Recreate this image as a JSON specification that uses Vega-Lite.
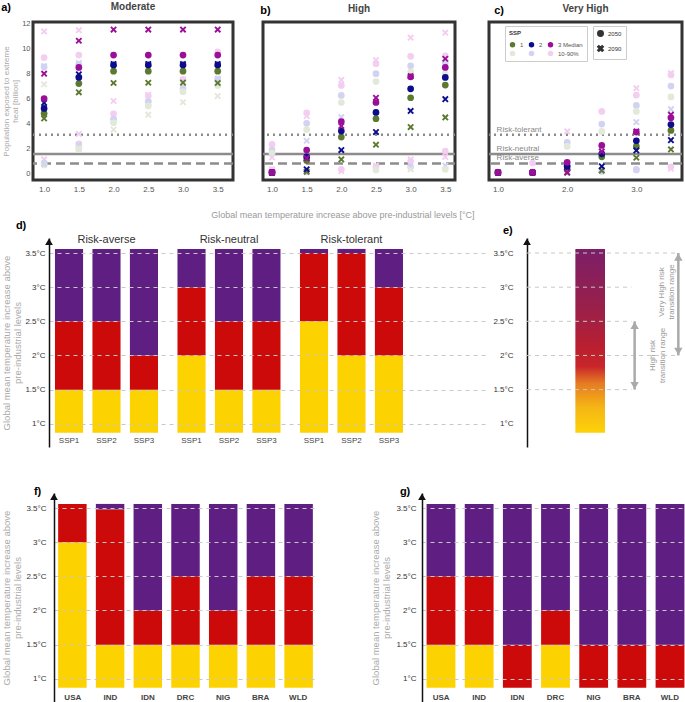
{
"$schema": "https://vega.github.io/schema/vega-lite/v6.json",
"padding": 0,
"background": "white",
"config": {"font": "Liberation Sans", "view": {"stroke": null}, "axis": {"labelFont": "Liberation Sans", "titleFont": "Liberation Sans"}, "title": {"font": "Liberation Sans"}, "legend": {"labelFont": "Liberation Sans", "titleFont": "Liberation Sans"}},
"datasets": {
"thr": [{"k": "tol", "v": 3.08, "lab": "Risk-tolerant"}, {"k": "neu", "v": 1.54, "lab": "Risk-neutral"}, {"k": "ave", "v": 0.77, "lab": "Risk-averse"}],
"pts": [
{"p":"a","t":1,"c":"3L","yr":"2090","v":11.4},{"p":"a","t":1,"c":"3L","yr":"2050","v":9.3},{"p":"a","t":1,"c":"2L","yr":"2090","v":8.6},{"p":"a","t":1,"c":"2L","yr":"2050","v":8.55},{"p":"a","t":1,"c":"1L","yr":"2090","v":7.15},{"p":"a","t":1,"c":"3L","yr":"2090","v":1.1},{"p":"a","t":1,"c":"2L","yr":"2050","v":0.8},{"p":"a","t":1,"c":"1L","yr":"2050","v":0.65},{"p":"a","t":1,"c":"2L","yr":"2090","v":0.72},
{"p":"a","t":1.5,"c":"3L","yr":"2090","v":11.5},{"p":"a","t":1.5,"c":"3L","yr":"2050","v":9.5},{"p":"a","t":1.5,"c":"2L","yr":"2090","v":8.85},{"p":"a","t":1.5,"c":"2L","yr":"2050","v":8.75},{"p":"a","t":1.5,"c":"3L","yr":"2090","v":3.15},{"p":"a","t":1.5,"c":"3L","yr":"2050","v":2.35},{"p":"a","t":1.5,"c":"2L","yr":"2090","v":2.25},{"p":"a","t":1.5,"c":"2L","yr":"2050","v":2.12},{"p":"a","t":1.5,"c":"1L","yr":"2090","v":2.0},{"p":"a","t":1.5,"c":"1L","yr":"2050","v":1.9},
{"p":"a","t":2,"c":"3L","yr":"2090","v":5.8},{"p":"a","t":2,"c":"3L","yr":"2050","v":4.77},{"p":"a","t":2,"c":"2L","yr":"2050","v":4.34},{"p":"a","t":2,"c":"2L","yr":"2090","v":4.25},{"p":"a","t":2,"c":"1L","yr":"2050","v":4.05},{"p":"a","t":2,"c":"1L","yr":"2090","v":3.5},
{"p":"a","t":2.5,"c":"3L","yr":"2090","v":6.3},{"p":"a","t":2.5,"c":"3L","yr":"2050","v":6.22},{"p":"a","t":2.5,"c":"2L","yr":"2050","v":5.75},{"p":"a","t":2.5,"c":"2L","yr":"2090","v":5.7},{"p":"a","t":2.5,"c":"1L","yr":"2050","v":5.4},{"p":"a","t":2.5,"c":"1L","yr":"2090","v":4.7},
{"p":"a","t":3,"c":"3L","yr":"2090","v":7.5},{"p":"a","t":3,"c":"3L","yr":"2050","v":7.55},{"p":"a","t":3,"c":"2L","yr":"2090","v":6.9},{"p":"a","t":3,"c":"2L","yr":"2050","v":6.8},{"p":"a","t":3,"c":"1L","yr":"2050","v":6.55},{"p":"a","t":3,"c":"1L","yr":"2090","v":5.7},
{"p":"a","t":3.5,"c":"3L","yr":"2050","v":9.75},{"p":"a","t":3.5,"c":"3L","yr":"2090","v":7.62},{"p":"a","t":3.5,"c":"2L","yr":"2050","v":7.55},{"p":"a","t":3.5,"c":"2L","yr":"2090","v":7.5},{"p":"a","t":3.5,"c":"1L","yr":"2050","v":7.05},{"p":"a","t":3.5,"c":"1L","yr":"2090","v":6.2},
{"p":"b","t":1,"c":"3L","yr":"2050","v":2.3},{"p":"b","t":1,"c":"2L","yr":"2050","v":1.85},{"p":"b","t":1,"c":"1L","yr":"2050","v":1.6},{"p":"b","t":1,"c":"3L","yr":"2090","v":1.26},{"p":"b","t":1,"c":"2L","yr":"2090","v":0.3},{"p":"b","t":1,"c":"1L","yr":"2090","v":0.2},{"p":"b","t":1,"c":"3L","yr":"2050","v":0.25},
{"p":"b","t":1.5,"c":"3L","yr":"2050","v":4.85},{"p":"b","t":1.5,"c":"3L","yr":"2090","v":4.6},{"p":"b","t":1.5,"c":"2L","yr":"2050","v":4.0},{"p":"b","t":1.5,"c":"1L","yr":"2050","v":3.5},{"p":"b","t":1.5,"c":"2L","yr":"2090","v":2.6},{"p":"b","t":1.5,"c":"1L","yr":"2090","v":0.15},{"p":"b","t":1.5,"c":"3L","yr":"2050","v":0.1},
{"p":"b","t":2,"c":"3L","yr":"2090","v":7.5},{"p":"b","t":2,"c":"3L","yr":"2050","v":7.05},{"p":"b","t":2,"c":"2L","yr":"2050","v":6.25},{"p":"b","t":2,"c":"1L","yr":"2050","v":5.68},{"p":"b","t":2,"c":"2L","yr":"2090","v":4.5},{"p":"b","t":2,"c":"3L","yr":"2050","v":0.3},{"p":"b","t":2,"c":"3L","yr":"2090","v":0.15},
{"p":"b","t":2.5,"c":"3L","yr":"2090","v":9.1},{"p":"b","t":2.5,"c":"3L","yr":"2050","v":8.8},{"p":"b","t":2.5,"c":"2L","yr":"2050","v":8.0},{"p":"b","t":2.5,"c":"1L","yr":"2050","v":7.37},{"p":"b","t":2.5,"c":"3L","yr":"2090","v":0.6},{"p":"b","t":2.5,"c":"3L","yr":"2050","v":0.5},{"p":"b","t":2.5,"c":"1L","yr":"2050","v":0.25},
{"p":"b","t":3,"c":"3L","yr":"2090","v":10.9},{"p":"b","t":3,"c":"3L","yr":"2050","v":9.4},{"p":"b","t":3,"c":"2L","yr":"2050","v":8.63},{"p":"b","t":3,"c":"1L","yr":"2050","v":8.15},{"p":"b","t":3,"c":"3L","yr":"2090","v":1.1},{"p":"b","t":3,"c":"3L","yr":"2050","v":0.95},{"p":"b","t":3,"c":"2L","yr":"2050","v":0.5},{"p":"b","t":3,"c":"1L","yr":"2090","v":0.3},
{"p":"b","t":3.5,"c":"3L","yr":"2090","v":11.3},{"p":"b","t":3.5,"c":"3L","yr":"2050","v":9.44},{"p":"b","t":3.5,"c":"2L","yr":"2050","v":8.9},{"p":"b","t":3.5,"c":"1L","yr":"2050","v":8.0},{"p":"b","t":3.5,"c":"3L","yr":"2050","v":1.77},{"p":"b","t":3.5,"c":"3L","yr":"2090","v":1.3},{"p":"b","t":3.5,"c":"2L","yr":"2090","v":0.6},{"p":"b","t":3.5,"c":"1L","yr":"2050","v":0.3},
{"p":"c","t":1,"c":"3L","yr":"2050","v":0.1},{"p":"c","t":1,"c":"2L","yr":"2050","v":0.08},
{"p":"c","t":1.5,"c":"3L","yr":"2050","v":0.8},{"p":"c","t":1.5,"c":"2L","yr":"2050","v":0.1},
{"p":"c","t":2,"c":"3L","yr":"2090","v":3.35},{"p":"c","t":2,"c":"2L","yr":"2050","v":2.47},{"p":"c","t":2,"c":"1L","yr":"2050","v":2.14},{"p":"c","t":2,"c":"2L","yr":"2090","v":0.6},{"p":"c","t":2,"c":"3L","yr":"2050","v":0.1},
{"p":"c","t":2.5,"c":"3L","yr":"2050","v":4.96},{"p":"c","t":2.5,"c":"2L","yr":"2050","v":3.94},{"p":"c","t":2.5,"c":"1L","yr":"2050","v":3.35},{"p":"c","t":2.5,"c":"3L","yr":"2090","v":0.2},{"p":"c","t":2.5,"c":"2L","yr":"2050","v":0.13},
{"p":"c","t":3,"c":"3L","yr":"2090","v":6.83},{"p":"c","t":3,"c":"3L","yr":"2050","v":6.27},{"p":"c","t":3,"c":"2L","yr":"2050","v":5.44},{"p":"c","t":3,"c":"1L","yr":"2050","v":4.96},{"p":"c","t":3,"c":"2L","yr":"2090","v":4.1},{"p":"c","t":3,"c":"3L","yr":"2050","v":0.3},{"p":"c","t":3,"c":"2L","yr":"2050","v":0.25},
{"p":"c","t":3.5,"c":"3L","yr":"2090","v":8.04},{"p":"c","t":3.5,"c":"3L","yr":"2050","v":7.9},{"p":"c","t":3.5,"c":"2L","yr":"2050","v":7.0},{"p":"c","t":3.5,"c":"1L","yr":"2050","v":6.13},{"p":"c","t":3.5,"c":"2L","yr":"2090","v":5.14},{"p":"c","t":3.5,"c":"3L","yr":"2050","v":0.5},{"p":"c","t":3.5,"c":"3L","yr":"2090","v":0.35},
{"p":"a","t":1,"c":"1M","yr":"2050","v":4.8},{"p":"a","t":1,"c":"1M","yr":"2090","v":4.4},{"p":"a","t":1,"c":"2M","yr":"2050","v":5.2},{"p":"a","t":1,"c":"2M","yr":"2090","v":5.65},{"p":"a","t":1,"c":"3M","yr":"2050","v":6.0},{"p":"a","t":1,"c":"3M","yr":"2090","v":8.0},
{"p":"a","t":1.5,"c":"1M","yr":"2050","v":7.2},{"p":"a","t":1.5,"c":"1M","yr":"2090","v":6.5},{"p":"a","t":1.5,"c":"2M","yr":"2050","v":7.7},{"p":"a","t":1.5,"c":"2M","yr":"2090","v":7.95},{"p":"a","t":1.5,"c":"3M","yr":"2050","v":8.5},{"p":"a","t":1.5,"c":"3M","yr":"2090","v":10.65},
{"p":"a","t":2,"c":"1M","yr":"2050","v":8.2},{"p":"a","t":2,"c":"1M","yr":"2090","v":7.25},{"p":"a","t":2,"c":"2M","yr":"2050","v":8.7},{"p":"a","t":2,"c":"2M","yr":"2090","v":8.78},{"p":"a","t":2,"c":"3M","yr":"2050","v":9.5},{"p":"a","t":2,"c":"3M","yr":"2090","v":11.55},
{"p":"a","t":2.5,"c":"1M","yr":"2050","v":8.2},{"p":"a","t":2.5,"c":"1M","yr":"2090","v":7.27},{"p":"a","t":2.5,"c":"2M","yr":"2050","v":8.7},{"p":"a","t":2.5,"c":"2M","yr":"2090","v":8.78},{"p":"a","t":2.5,"c":"3M","yr":"2050","v":9.5},{"p":"a","t":2.5,"c":"3M","yr":"2090","v":11.55},
{"p":"a","t":3,"c":"1M","yr":"2050","v":8.2},{"p":"a","t":3,"c":"1M","yr":"2090","v":7.28},{"p":"a","t":3,"c":"2M","yr":"2050","v":8.7},{"p":"a","t":3,"c":"2M","yr":"2090","v":8.78},{"p":"a","t":3,"c":"3M","yr":"2050","v":9.5},{"p":"a","t":3,"c":"3M","yr":"2090","v":11.55},
{"p":"a","t":3.5,"c":"1M","yr":"2050","v":8.2},{"p":"a","t":3.5,"c":"1M","yr":"2090","v":7.25},{"p":"a","t":3.5,"c":"2M","yr":"2050","v":8.7},{"p":"a","t":3.5,"c":"2M","yr":"2090","v":8.78},{"p":"a","t":3.5,"c":"3M","yr":"2050","v":9.5},{"p":"a","t":3.5,"c":"3M","yr":"2090","v":11.55},
{"p":"b","t":1,"c":"1M","yr":"2050","v":0.05},{"p":"b","t":1,"c":"1M","yr":"2090","v":0.03},{"p":"b","t":1,"c":"2M","yr":"2050","v":0.05},{"p":"b","t":1,"c":"2M","yr":"2090","v":0.03},{"p":"b","t":1,"c":"3M","yr":"2050","v":0.06},{"p":"b","t":1,"c":"3M","yr":"2090","v":0.03},
{"p":"b","t":1.5,"c":"1M","yr":"2050","v":1.0},{"p":"b","t":1.5,"c":"1M","yr":"2090","v":0.1},{"p":"b","t":1.5,"c":"2M","yr":"2050","v":1.3},{"p":"b","t":1.5,"c":"2M","yr":"2090","v":0.3},{"p":"b","t":1.5,"c":"3M","yr":"2050","v":1.85},{"p":"b","t":1.5,"c":"3M","yr":"2090","v":1.2},
{"p":"b","t":2,"c":"1M","yr":"2050","v":2.9},{"p":"b","t":2,"c":"1M","yr":"2090","v":1.1},{"p":"b","t":2,"c":"2M","yr":"2050","v":3.38},{"p":"b","t":2,"c":"2M","yr":"2090","v":1.85},{"p":"b","t":2,"c":"3M","yr":"2050","v":4.15},{"p":"b","t":2,"c":"3M","yr":"2090","v":3.78},
{"p":"b","t":2.5,"c":"1M","yr":"2050","v":4.37},{"p":"b","t":2.5,"c":"1M","yr":"2090","v":2.28},{"p":"b","t":2.5,"c":"2M","yr":"2050","v":4.88},{"p":"b","t":2.5,"c":"2M","yr":"2090","v":3.3},{"p":"b","t":2.5,"c":"3M","yr":"2050","v":5.68},{"p":"b","t":2.5,"c":"3M","yr":"2090","v":6.06},
{"p":"b","t":3,"c":"1M","yr":"2050","v":6.06},{"p":"b","t":3,"c":"1M","yr":"2090","v":3.7},{"p":"b","t":3,"c":"2M","yr":"2050","v":6.78},{"p":"b","t":3,"c":"2M","yr":"2090","v":5.0},{"p":"b","t":3,"c":"3M","yr":"2050","v":7.75},{"p":"b","t":3,"c":"3M","yr":"2090","v":7.8},
{"p":"b","t":3.5,"c":"1M","yr":"2050","v":7.08},{"p":"b","t":3.5,"c":"1M","yr":"2090","v":4.48},{"p":"b","t":3.5,"c":"2M","yr":"2050","v":7.7},{"p":"b","t":3.5,"c":"2M","yr":"2090","v":5.95},{"p":"b","t":3.5,"c":"3M","yr":"2050","v":8.5},{"p":"b","t":3.5,"c":"3M","yr":"2090","v":9.2},
{"p":"c","t":1,"c":"1M","yr":"2050","v":0.04},{"p":"c","t":1,"c":"1M","yr":"2090","v":0.03},{"p":"c","t":1,"c":"2M","yr":"2050","v":0.04},{"p":"c","t":1,"c":"2M","yr":"2090","v":0.03},{"p":"c","t":1,"c":"3M","yr":"2050","v":0.05},{"p":"c","t":1,"c":"3M","yr":"2090","v":0.04},
{"p":"c","t":1.5,"c":"1M","yr":"2050","v":0.04},{"p":"c","t":1.5,"c":"1M","yr":"2090","v":0.03},{"p":"c","t":1.5,"c":"2M","yr":"2050","v":0.04},{"p":"c","t":1.5,"c":"2M","yr":"2090","v":0.03},{"p":"c","t":1.5,"c":"3M","yr":"2050","v":0.05},{"p":"c","t":1.5,"c":"3M","yr":"2090","v":0.04},
{"p":"c","t":2,"c":"1M","yr":"2050","v":0.3},{"p":"c","t":2,"c":"1M","yr":"2090","v":0.03},{"p":"c","t":2,"c":"2M","yr":"2050","v":0.55},{"p":"c","t":2,"c":"2M","yr":"2090","v":0.46},{"p":"c","t":2,"c":"3M","yr":"2050","v":0.86},{"p":"c","t":2,"c":"3M","yr":"2090","v":0.05},
{"p":"c","t":2.5,"c":"1M","yr":"2050","v":1.31},{"p":"c","t":2.5,"c":"1M","yr":"2090","v":0.2},{"p":"c","t":2.5,"c":"2M","yr":"2050","v":1.55},{"p":"c","t":2.5,"c":"2M","yr":"2090","v":0.54},{"p":"c","t":2.5,"c":"3M","yr":"2050","v":2.22},{"p":"c","t":2.5,"c":"3M","yr":"2090","v":1.74},
{"p":"c","t":3,"c":"1M","yr":"2050","v":2.14},{"p":"c","t":3,"c":"1M","yr":"2090","v":1.23},{"p":"c","t":3,"c":"2M","yr":"2050","v":2.6},{"p":"c","t":3,"c":"2M","yr":"2090","v":1.82},{"p":"c","t":3,"c":"3M","yr":"2050","v":3.3},{"p":"c","t":3,"c":"3M","yr":"2090","v":3.35},
{"p":"c","t":3.5,"c":"1M","yr":"2050","v":3.43},{"p":"c","t":3.5,"c":"1M","yr":"2090","v":1.9},{"p":"c","t":3.5,"c":"2M","yr":"2050","v":3.9},{"p":"c","t":3.5,"c":"2M","yr":"2090","v":2.65},{"p":"c","t":3.5,"c":"3M","yr":"2050","v":4.45},{"p":"c","t":3.5,"c":"3M","yr":"2090","v":4.7}
],
"dbar": [
{"g":"Risk-averse","s":"SSP1","lvl":"Moderate","y0":0.87,"y1":1.5},{"g":"Risk-averse","s":"SSP1","lvl":"High","y0":1.5,"y1":2.5},{"g":"Risk-averse","s":"SSP1","lvl":"Very High","y0":2.5,"y1":3.56},
{"g":"Risk-averse","s":"SSP2","lvl":"Moderate","y0":0.87,"y1":1.5},{"g":"Risk-averse","s":"SSP2","lvl":"High","y0":1.5,"y1":2.5},{"g":"Risk-averse","s":"SSP2","lvl":"Very High","y0":2.5,"y1":3.56},
{"g":"Risk-averse","s":"SSP3","lvl":"Moderate","y0":0.87,"y1":1.5},{"g":"Risk-averse","s":"SSP3","lvl":"High","y0":1.5,"y1":2.0},{"g":"Risk-averse","s":"SSP3","lvl":"Very High","y0":2.0,"y1":3.56},
{"g":"Risk-neutral","s":"SSP1","lvl":"Moderate","y0":0.87,"y1":2.0},{"g":"Risk-neutral","s":"SSP1","lvl":"High","y0":2.0,"y1":3.0},{"g":"Risk-neutral","s":"SSP1","lvl":"Very High","y0":3.0,"y1":3.56},
{"g":"Risk-neutral","s":"SSP2","lvl":"Moderate","y0":0.87,"y1":1.5},{"g":"Risk-neutral","s":"SSP2","lvl":"High","y0":1.5,"y1":2.5},{"g":"Risk-neutral","s":"SSP2","lvl":"Very High","y0":2.5,"y1":3.56},
{"g":"Risk-neutral","s":"SSP3","lvl":"Moderate","y0":0.87,"y1":1.5},{"g":"Risk-neutral","s":"SSP3","lvl":"High","y0":1.5,"y1":2.5},{"g":"Risk-neutral","s":"SSP3","lvl":"Very High","y0":2.5,"y1":3.56},
{"g":"Risk-tolerant","s":"SSP1","lvl":"Moderate","y0":0.87,"y1":2.5},{"g":"Risk-tolerant","s":"SSP1","lvl":"High","y0":2.5,"y1":3.5},{"g":"Risk-tolerant","s":"SSP1","lvl":"Very High","y0":3.5,"y1":3.56},
{"g":"Risk-tolerant","s":"SSP2","lvl":"Moderate","y0":0.87,"y1":2.0},{"g":"Risk-tolerant","s":"SSP2","lvl":"High","y0":2.0,"y1":3.5},{"g":"Risk-tolerant","s":"SSP2","lvl":"Very High","y0":3.5,"y1":3.56},
{"g":"Risk-tolerant","s":"SSP3","lvl":"Moderate","y0":0.87,"y1":2.0},{"g":"Risk-tolerant","s":"SSP3","lvl":"High","y0":2.0,"y1":3.0},{"g":"Risk-tolerant","s":"SSP3","lvl":"Very High","y0":3.0,"y1":3.56}
],
"fbar": [
{"cty":"USA","lvl":"Moderate","y0":0.87,"y1":3.0},{"cty":"USA","lvl":"High","y0":3.0,"y1":3.56},
{"cty":"IND","lvl":"Moderate","y0":0.87,"y1":1.5},{"cty":"IND","lvl":"High","y0":1.5,"y1":3.48},{"cty":"IND","lvl":"Very High","y0":3.48,"y1":3.56},
{"cty":"IDN","lvl":"Moderate","y0":0.87,"y1":1.5},{"cty":"IDN","lvl":"High","y0":1.5,"y1":2.0},{"cty":"IDN","lvl":"Very High","y0":2.0,"y1":3.56},
{"cty":"DRC","lvl":"Moderate","y0":0.87,"y1":1.5},{"cty":"DRC","lvl":"High","y0":1.5,"y1":2.5},{"cty":"DRC","lvl":"Very High","y0":2.5,"y1":3.56},
{"cty":"NIG","lvl":"Moderate","y0":0.87,"y1":1.5},{"cty":"NIG","lvl":"High","y0":1.5,"y1":2.0},{"cty":"NIG","lvl":"Very High","y0":2.0,"y1":3.56},
{"cty":"BRA","lvl":"Moderate","y0":0.87,"y1":1.5},{"cty":"BRA","lvl":"High","y0":1.5,"y1":2.5},{"cty":"BRA","lvl":"Very High","y0":2.5,"y1":3.56},
{"cty":"WLD","lvl":"Moderate","y0":0.87,"y1":1.5},{"cty":"WLD","lvl":"High","y0":1.5,"y1":2.5},{"cty":"WLD","lvl":"Very High","y0":2.5,"y1":3.56}
],
"gbar": [
{"cty":"USA","lvl":"Moderate","y0":0.87,"y1":1.5},{"cty":"USA","lvl":"High","y0":1.5,"y1":2.5},{"cty":"USA","lvl":"Very High","y0":2.5,"y1":3.56},
{"cty":"IND","lvl":"Moderate","y0":0.87,"y1":1.5},{"cty":"IND","lvl":"High","y0":1.5,"y1":2.5},{"cty":"IND","lvl":"Very High","y0":2.5,"y1":3.56},
{"cty":"IDN","lvl":"High","y0":0.87,"y1":1.5},{"cty":"IDN","lvl":"Very High","y0":1.5,"y1":3.56},
{"cty":"DRC","lvl":"Moderate","y0":0.87,"y1":1.5},{"cty":"DRC","lvl":"High","y0":1.5,"y1":2.0},{"cty":"DRC","lvl":"Very High","y0":2.0,"y1":3.56},
{"cty":"NIG","lvl":"High","y0":0.87,"y1":1.5},{"cty":"NIG","lvl":"Very High","y0":1.5,"y1":3.56},
{"cty":"BRA","lvl":"High","y0":0.87,"y1":1.5},{"cty":"BRA","lvl":"Very High","y0":1.5,"y1":3.56},
{"cty":"WLD","lvl":"High","y0":0.87,"y1":1.5},{"cty":"WLD","lvl":"Very High","y0":1.5,"y1":3.56}
]
},
"resolve": {"scale": {"color": "independent", "shape": "independent", "fill": "independent", "strokeDash": "independent"}, "legend": {"color": "independent", "shape": "independent", "fill": "independent", "strokeDash": "independent"}},
"columns": 1,
"align": "none",
"spacing": 39,
"concat": [
{
"columns": 1,
"align": "none",
"spacing": 0,
"resolve": {"scale": {"color": "independent", "shape": "independent", "fill": "independent", "strokeDash": "independent"}, "legend": {"color": "independent", "shape": "independent", "fill": "independent", "strokeDash": "independent"}},
"concat": [
{
"spacing": 0,
"resolve": {"scale": {"color": "independent", "shape": "independent", "strokeDash": "independent"}, "legend": {"color": "independent", "shape": "independent", "strokeDash": "independent"}},
"hconcat": [
{"width": 1, "height": 1, "data": {"values": []}, "mark": {"type": "point", "opacity": 0}},
{
"spacing": 24,
"title": {"text": "Global mean temperature increase above pre-industrial levels [°C]", "orient": "bottom", "anchor": "middle", "frame": "bounds", "fontSize": 9, "fontWeight": "normal", "color": "#999", "offset": 16},
"resolve": {"scale": {"color": "independent", "shape": "independent", "strokeDash": "independent"}, "legend": {"color": "independent", "shape": "independent", "strokeDash": "independent"}},
"hconcat": [
{
"title": {"text": "a)", "anchor": "start", "frame": "bounds", "fontSize": 11, "fontWeight": "bold", "color": "#000", "offset": 0, "dy": 13},
"resolve": {"scale": {"color": "independent", "shape": "independent", "strokeDash": "independent"}, "legend": {"color": "independent", "shape": "independent", "strokeDash": "independent"}},
"vconcat": [{
"width": 200, "height": 158,
"title": {"text": "Moderate", "anchor": "middle", "frame": "group", "fontSize": 10, "fontWeight": "bold", "color": "#444", "offset": 8},
"view": {"stroke": "#333", "strokeWidth": 3},
"encoding": {"y": {"field": "v", "type": "quantitative", "scale": {"domain": [-0.56, 12.16], "nice": false, "zero": false}, "axis": {"values": [0, 2, 4, 6, 8, 10, 12], "ticks": false, "domain": false, "grid": false, "labelFontSize": 7.5, "labelColor": "#555", "labelPadding": 3, "title": ["Population exposed to extreme", "heat [billion]"], "titleColor": "#aaa", "titleFontSize": 8, "titleFontWeight": "normal", "titlePadding": 2, "titleLineHeight": 9}}},
"layer": [
{"data": {"name": "thr"}, "mark": {"type": "rule", "color": "#8c8c8c", "strokeWidth": 2.5}, "encoding": {"strokeDash": {"field": "k", "type": "nominal", "scale": {"domain": ["tol", "neu", "ave"], "range": [[2, 4], [1, 0], [9, 5]]}, "legend": null}}},
{"data": {"name": "pts"}, "transform": [{"filter": "datum.p == 'a'"}], "mark": {"type": "point", "filled": true, "opacity": 1, "size": 45},
"encoding": {"x": {"field": "t", "type": "quantitative", "scale": {"domain": [0.84, 3.72], "nice": false, "zero": false}, "axis": {"values": [1, 1.5, 2, 2.5, 3, 3.5], "format": ".1f", "ticks": false, "domain": false, "grid": false, "labelFontSize": 8, "labelColor": "#555", "labelPadding": 5, "title": null}},
"color": {"field": "c", "type": "nominal", "scale": {"domain": ["1M", "2M", "3M", "1L", "2L", "3L"], "range": ["#5b7a2f", "#0c0c8c", "#9b0e98", "#e2e9d8", "#d2d2f2", "#f3cef1"]}, "legend": null},
"shape": {"field": "yr", "type": "nominal", "scale": {"domain": ["2050", "2090"], "range": ["circle", "M-1,-0.6L-0.6,-1L0,-0.4L0.6,-1L1,-0.6L0.4,0L1,0.6L0.6,1L0,0.4L-0.6,1L-1,0.6L-0.4,0Z"]}, "legend": null}}}
]
}]
},
{
"spacing": 28,
"resolve": {"scale": {"color": "independent", "shape": "independent", "strokeDash": "independent"}, "legend": {"color": "independent", "shape": "independent", "strokeDash": "independent"}},
"hconcat": [
{
"title": {"text": "b)", "anchor": "start", "frame": "bounds", "fontSize": 11, "fontWeight": "bold", "color": "#000", "offset": 0, "dy": 13},
"resolve": {"scale": {"color": "independent", "shape": "independent", "strokeDash": "independent"}, "legend": {"color": "independent", "shape": "independent", "strokeDash": "independent"}},
"vconcat": [{
"width": 192, "height": 158,
"title": {"text": "High", "anchor": "middle", "frame": "group", "fontSize": 10, "fontWeight": "bold", "color": "#444", "offset": 8},
"view": {"stroke": "#333", "strokeWidth": 3},
"encoding": {"y": {"field": "v", "type": "quantitative", "scale": {"domain": [-0.56, 12.16], "nice": false, "zero": false}, "axis": null}},
"layer": [
{"data": {"name": "thr"}, "mark": {"type": "rule", "color": "#8c8c8c", "strokeWidth": 2.5}, "encoding": {"strokeDash": {"field": "k", "type": "nominal", "scale": {"domain": ["tol", "neu", "ave"], "range": [[2, 4], [1, 0], [9, 5]]}, "legend": null}}},
{"data": {"name": "pts"}, "transform": [{"filter": "datum.p == 'b'"}], "mark": {"type": "point", "filled": true, "opacity": 1, "size": 45},
"encoding": {"x": {"field": "t", "type": "quantitative", "scale": {"domain": [0.87, 3.64], "nice": false, "zero": false}, "axis": {"values": [1, 1.5, 2, 2.5, 3, 3.5], "format": ".1f", "ticks": false, "domain": false, "grid": false, "labelFontSize": 8, "labelColor": "#555", "labelPadding": 5, "title": null}},
"color": {"field": "c", "type": "nominal", "scale": {"domain": ["1M", "2M", "3M", "1L", "2L", "3L"], "range": ["#5b7a2f", "#0c0c8c", "#9b0e98", "#e2e9d8", "#d2d2f2", "#f3cef1"]}, "legend": null},
"shape": {"field": "yr", "type": "nominal", "scale": {"domain": ["2050", "2090"], "range": ["circle", "M-1,-0.6L-0.6,-1L0,-0.4L0.6,-1L1,-0.6L0.4,0L1,0.6L0.6,1L0,0.4L-0.6,1L-1,0.6L-0.4,0Z"]}, "legend": null}}}
]
}]
},
{
"title": {"text": "c)", "anchor": "start", "frame": "bounds", "dx": 8, "fontSize": 11, "fontWeight": "bold", "color": "#000", "offset": 0, "dy": 13},
"resolve": {"scale": {"color": "independent", "shape": "independent", "strokeDash": "independent"}, "legend": {"color": "independent", "shape": "independent", "strokeDash": "independent"}},
"vconcat": [{
"width": 193, "height": 158,
"title": {"text": "Very High", "anchor": "middle", "frame": "group", "fontSize": 10, "fontWeight": "bold", "color": "#444", "offset": 8},
"view": {"stroke": "#333", "strokeWidth": 3},
"encoding": {"y": {"field": "v", "type": "quantitative", "scale": {"domain": [-0.56, 12.16], "nice": false, "zero": false}, "axis": null}},
"layer": [
{"data": {"name": "thr"}, "mark": {"type": "rule", "color": "#8c8c8c", "strokeWidth": 2.5}, "encoding": {"strokeDash": {"field": "k", "type": "nominal", "scale": {"domain": ["tol", "neu", "ave"], "range": [[2, 4], [1, 0], [9, 5]]}, "legend": null}}},
{"data": {"name": "pts"}, "transform": [{"filter": "datum.p == 'c'"}], "mark": {"type": "point", "filled": true, "opacity": 1, "size": 45},
"encoding": {"x": {"field": "t", "type": "quantitative", "scale": {"domain": [0.87, 3.66], "nice": false, "zero": false}, "axis": {"values": [1, 1.5, 2, 2.5, 3, 3.5], "format": ".1f", "ticks": false, "domain": false, "grid": false, "labelFontSize": 8, "labelColor": "#555", "labelPadding": 5, "title": null}},
"color": {"field": "c", "type": "nominal", "scale": {"domain": ["1M", "2M", "3M", "1L", "2L", "3L"], "range": ["#5b7a2f", "#0c0c8c", "#9b0e98", "#e2e9d8", "#d2d2f2", "#f3cef1"]}, "legend": {"orient": "none", "legendX": 16, "legendY": 4, "columns": 3, "direction": "horizontal", "title": "SSP", "titleFontSize": 6, "titleColor": "#333", "labelFontSize": 6, "labelColor": "#555", "symbolType": "circle", "symbolSize": 30, "strokeColor": "#ccc", "fillColor": "white", "padding": 4, "rowPadding": 2, "columnPadding": 4, "labelExpr": "datum.value == '1M' ? '1' : datum.value == '2M' ? '2' : datum.value == '3M' ? '3 Median' : datum.value == '3L' ? '10-90%' : ''"}},
"shape": {"field": "yr", "type": "nominal", "scale": {"domain": ["2050", "2090"], "range": ["circle", "M-1,-0.6L-0.6,-1L0,-0.4L0.6,-1L1,-0.6L0.4,0L1,0.6L0.6,1L0,0.4L-0.6,1L-1,0.6L-0.4,0Z"]}, "legend": {"orient": "none", "legendX": 104, "legendY": 4, "title": null, "labelFontSize": 6, "labelColor": "#333", "symbolFillColor": "#333", "symbolStrokeColor": "#333", "symbolSize": 30, "strokeColor": "#ccc", "fillColor": "white", "padding": 4}}}},
{"data": {"name": "thr"}, "mark": {"type": "text", "align": "left", "baseline": "bottom", "dy": -1, "fontSize": 8, "color": "#888"}, "encoding": {"x": {"datum": 0.98, "type": "quantitative"}, "text": {"field": "lab"}}}
]
}]
}
]
}
]
}
]
},
{
"spacing": 0,
"resolve": {"scale": {"fill": "independent"}, "legend": {"fill": "independent"}},
"hconcat": [
{"width": 1, "height": 1, "data": {"values": []}, "mark": {"type": "point", "opacity": 0}},
{
"spacing": 3,
"resolve": {"scale": {"fill": "independent"}, "legend": {"fill": "independent"}},
"hconcat": [
{
"width": 440, "height": 209,
"title": {"text": "d)", "anchor": "start", "frame": "bounds", "dx": 14, "fontSize": 11, "fontWeight": "bold", "color": "#000", "offset": 2},
"resolve": {"scale": {"x": "independent"}},
"layer": [
{"data": {"name": "dbar"}, "mark": {"type": "bar"},
"encoding": {
"x": {"field": "g", "type": "nominal", "sort": null, "scale": {"domain": ["Risk-averse", "Risk-neutral", "Risk-tolerant"], "paddingInner": 0.159, "paddingOuter": 0.3755, "align": 0.065}, "axis": {"orient": "top", "title": null, "ticks": false, "domain": false, "labelAngle": 0, "labelPadding": -6, "labelFontSize": 11, "labelColor": "#333", "labelFontWeight": 500}},
"xOffset": {"field": "s", "type": "nominal", "scale": {"paddingInner": 0.25, "paddingOuter": 0}},
"y": {"field": "y0", "type": "quantitative", "scale": {"domain": [0.66, 3.72], "nice": false, "zero": false}, "axis": {"values": [1, 1.5, 2, 2.5, 3, 3.5], "labelExpr": "datum.value + '°C'", "ticks": false, "domain": true, "domainColor": "#111", "domainWidth": 1.5, "grid": true, "gridDash": [4, 4], "gridColor": "#c8c8c8", "gridWidth": 1, "zindex": 1, "labelFontSize": 8, "labelColor": "#333", "labelPadding": 4, "title": ["Global mean temperature increase above", "pre-industrial levels"], "titleColor": "#aaa", "titleFontSize": 9.5, "titleFontWeight": "normal", "titlePadding": 2, "titleLineHeight": 11}},
"y2": {"field": "y1"},
"fill": {"field": "lvl", "type": "nominal", "scale": {"domain": ["Moderate", "High", "Very High"], "range": ["#fcd200", "#cc0a0a", "#5f1e82"]}, "legend": null}}},
{"data": {"name": "dbar"}, "transform": [{"filter": "datum.y0 < 1"}], "mark": {"type": "text", "fontSize": 8, "color": "#444", "baseline": "middle"},
"encoding": {"x": {"field": "g", "type": "nominal", "sort": null, "scale": {"domain": ["Risk-averse", "Risk-neutral", "Risk-tolerant"], "paddingInner": 0.159, "paddingOuter": 0.3755, "align": 0.065}, "axis": null}, "xOffset": {"field": "s", "type": "nominal", "scale": {"paddingInner": 0.25, "paddingOuter": 0}}, "y": {"datum": 0.745, "type": "quantitative"}, "text": {"field": "s"}}},
{"data": {"values": [{}]}, "mark": {"type": "point", "shape": "triangle-up", "filled": true, "color": "#111", "size": 60, "opacity": 1},
"encoding": {"x": {"datum": 0, "type": "quantitative", "scale": {"domain": [0, 1]}, "axis": null}, "y": {"datum": 3.665, "type": "quantitative"}}}
]
},
{
"width": 156, "height": 209,
"title": {"text": "e)", "anchor": "start", "frame": "bounds", "dx": 10, "fontSize": 11, "fontWeight": "bold", "color": "#000", "offset": 2},
"encoding": {"x": {"type": "quantitative", "scale": {"domain": [0, 1]}, "axis": null}},
"layer": [
{"data": {"values": [{"y0": 0.87, "y1": 3.56}]}, "mark": {"type": "rect", "color": {"gradient": "linear", "x1": 0, "y1": 1, "x2": 0, "y2": 0, "stops": [{"offset": 0, "color": "#fdd208"}, {"offset": 0.14, "color": "#f5b515"}, {"offset": 0.27, "color": "#e57a22"}, {"offset": 0.36, "color": "#c8262a"}, {"offset": 0.46, "color": "#bb1f2f"}, {"offset": 0.66, "color": "#9c2048"}, {"offset": 1, "color": "#7b1e68"}]}},
"encoding": {"x": {"datum": 0.31, "type": "quantitative"}, "x2": {"datum": 0.5}, "y": {"field": "y0", "type": "quantitative", "scale": {"domain": [0.66, 3.72], "nice": false, "zero": false}, "axis": {"values": [1, 1.5, 2, 2.5, 3, 3.5], "labelExpr": "datum.value + '°C'", "ticks": false, "domain": true, "domainColor": "#111", "domainWidth": 1.5, "grid": false, "labelFontSize": 8, "labelColor": "#333", "labelPadding": 14, "title": null}}, "y2": {"field": "y1"}}},
{"data": {"values": [{"v": 1.5}, {"v": 2.5}, {"v": 3.0}]}, "mark": {"type": "rule", "strokeDash": [4, 4], "color": "#c8c8c8", "strokeWidth": 1},
"encoding": {"x": {"datum": 0, "type": "quantitative"}, "x2": {"datum": 0.67}, "y": {"field": "v", "type": "quantitative"}}},
{"data": {"values": [{"v": 2.0}, {"v": 3.5}]}, "mark": {"type": "rule", "strokeDash": [4, 4], "color": "#c8c8c8", "strokeWidth": 1},
"encoding": {"x": {"datum": 0, "type": "quantitative"}, "x2": {"datum": 0.97}, "y": {"field": "v", "type": "quantitative"}}},
{"data": {"values": [{"lo": 1.5, "hi": 2.5}]}, "mark": {"type": "rule", "color": "#aaa", "strokeWidth": 2.5},
"encoding": {"x": {"datum": 0.69, "type": "quantitative"}, "y": {"field": "lo", "type": "quantitative"}, "y2": {"field": "hi"}}},
{"data": {"values": [{"lo": 1.5, "hi": 2.5}]}, "mark": {"type": "point", "shape": "triangle-up", "filled": true, "color": "#aaa", "size": 70, "opacity": 1, "yOffset": 4},
"encoding": {"x": {"datum": 0.69, "type": "quantitative"}, "y": {"field": "hi", "type": "quantitative"}}},
{"data": {"values": [{"lo": 1.5, "hi": 2.5}]}, "mark": {"type": "point", "shape": "triangle-down", "filled": true, "color": "#aaa", "size": 70, "opacity": 1, "yOffset": -4},
"encoding": {"x": {"datum": 0.69, "type": "quantitative"}, "y": {"field": "lo", "type": "quantitative"}}},
{"data": {"values": [{"lo": 2.0, "hi": 3.5}]}, "mark": {"type": "rule", "color": "#aaa", "strokeWidth": 2.5},
"encoding": {"x": {"datum": 0.97, "type": "quantitative"}, "y": {"field": "lo", "type": "quantitative"}, "y2": {"field": "hi"}}},
{"data": {"values": [{"lo": 2.0, "hi": 3.5}]}, "mark": {"type": "point", "shape": "triangle-up", "filled": true, "color": "#aaa", "size": 70, "opacity": 1, "yOffset": 4},
"encoding": {"x": {"datum": 0.97, "type": "quantitative"}, "y": {"field": "hi", "type": "quantitative"}}},
{"data": {"values": [{"lo": 2.0, "hi": 3.5}]}, "mark": {"type": "point", "shape": "triangle-down", "filled": true, "color": "#aaa", "size": 70, "opacity": 1, "yOffset": -4},
"encoding": {"x": {"datum": 0.97, "type": "quantitative"}, "y": {"field": "lo", "type": "quantitative"}}},
{"data": {"values": [{}]}, "mark": {"type": "text", "angle": 270, "fontSize": 8, "color": "#999", "align": "center", "baseline": "middle", "lineHeight": 10},
"encoding": {"x": {"datum": 0.81, "type": "quantitative"}, "y": {"datum": 2.0, "type": "quantitative"}, "text": {"value": ["High risk", "transition range"]}}},
{"data": {"values": [{}]}, "mark": {"type": "text", "angle": 270, "fontSize": 8, "color": "#999", "align": "center", "baseline": "middle", "lineHeight": 10},
"encoding": {"x": {"datum": 0.865, "type": "quantitative"}, "y": {"datum": 2.93, "type": "quantitative"}, "text": {"value": ["Very High risk", "transition range"]}}},
{"data": {"values": [{}]}, "mark": {"type": "point", "shape": "triangle-up", "filled": true, "color": "#111", "size": 60, "opacity": 1},
"encoding": {"x": {"datum": 0, "type": "quantitative"}, "y": {"datum": 3.665, "type": "quantitative"}}}
]
}
]
}
]
}
]
},
{
"spacing": 0,
"resolve": {"scale": {"fill": "independent"}, "legend": {"fill": "independent"}},
"hconcat": [
{"width": 1, "height": 1, "data": {"values": []}, "mark": {"type": "point", "opacity": 0}},
{
"spacing": 53,
"resolve": {"scale": {"fill": "independent"}, "legend": {"fill": "independent"}},
"hconcat": [
{
"width": 263, "height": 209,
"title": {"text": "f)", "anchor": "start", "frame": "bounds", "dx": 32, "fontSize": 11, "fontWeight": "bold", "color": "#000", "offset": -4},
"resolve": {"scale": {"x": "independent"}},
"layer": [
{"data": {"name": "fbar"}, "mark": {"type": "bar"},
"encoding": {
"x": {"field": "cty", "type": "nominal", "sort": null, "scale": {"domain": ["USA", "IND", "IDN", "DRC", "NIG", "BRA", "WLD"], "paddingInner": 0.245, "paddingOuter": 0.11}, "axis": null},
"y": {"field": "y0", "type": "quantitative", "scale": {"domain": [0.66, 3.72], "nice": false, "zero": false}, "axis": {"values": [1, 1.5, 2, 2.5, 3, 3.5], "labelExpr": "datum.value + '°C'", "ticks": false, "domain": true, "domainColor": "#111", "domainWidth": 1.5, "grid": true, "gridDash": [4, 4], "gridColor": "#c8c8c8", "gridWidth": 1, "zindex": 1, "labelFontSize": 8, "labelColor": "#333", "labelPadding": 8, "title": ["Global mean temperature increase above", "pre-industrial levels"], "titleColor": "#aaa", "titleFontSize": 9.5, "titleFontWeight": "normal", "titlePadding": 3, "titleLineHeight": 11}},
"y2": {"field": "y1"},
"fill": {"field": "lvl", "type": "nominal", "scale": {"domain": ["Moderate", "High", "Very High"], "range": ["#fcd200", "#cc0a0a", "#5f1e82"]}, "legend": null}}},
{"data": {"name": "fbar"}, "transform": [{"filter": "datum.y0 < 1"}], "mark": {"type": "text", "fontSize": 8, "fontWeight": "bold", "color": "#444", "baseline": "middle"},
"encoding": {"x": {"field": "cty", "type": "nominal", "sort": null, "scale": {"domain": ["USA", "IND", "IDN", "DRC", "NIG", "BRA", "WLD"], "paddingInner": 0.245, "paddingOuter": 0.11}, "axis": null}, "y": {"datum": 0.715, "type": "quantitative"}, "text": {"field": "cty"}}},
{"data": {"values": [{}]}, "mark": {"type": "point", "shape": "triangle-up", "filled": true, "color": "#111", "size": 60, "opacity": 1},
"encoding": {"x": {"datum": 0, "type": "quantitative", "scale": {"domain": [0, 1]}, "axis": null}, "y": {"datum": 3.665, "type": "quantitative"}}}
]
},
{
"width": 267, "height": 209,
"title": {"text": "g)", "anchor": "start", "frame": "bounds", "dx": 29, "fontSize": 11, "fontWeight": "bold", "color": "#000", "offset": -4},
"resolve": {"scale": {"x": "independent"}},
"layer": [
{"data": {"name": "gbar"}, "mark": {"type": "bar"},
"encoding": {
"x": {"field": "cty", "type": "nominal", "sort": null, "scale": {"domain": ["USA", "IND", "IDN", "DRC", "NIG", "BRA", "WLD"], "paddingInner": 0.245, "paddingOuter": 0.12}, "axis": null},
"y": {"field": "y0", "type": "quantitative", "scale": {"domain": [0.66, 3.72], "nice": false, "zero": false}, "axis": {"values": [1, 1.5, 2, 2.5, 3, 3.5], "labelExpr": "datum.value + '°C'", "ticks": false, "domain": true, "domainColor": "#111", "domainWidth": 1.5, "grid": true, "gridDash": [4, 4], "gridColor": "#c8c8c8", "gridWidth": 1, "zindex": 1, "labelFontSize": 8, "labelColor": "#333", "labelPadding": 6, "title": ["Global mean temperature increase above", "pre-industrial levels"], "titleColor": "#aaa", "titleFontSize": 9.5, "titleFontWeight": "normal", "titlePadding": 4, "titleLineHeight": 11}},
"y2": {"field": "y1"},
"fill": {"field": "lvl", "type": "nominal", "scale": {"domain": ["Moderate", "High", "Very High"], "range": ["#fcd200", "#cc0a0a", "#5f1e82"]}, "legend": null}}},
{"data": {"name": "gbar"}, "transform": [{"filter": "datum.y0 < 1"}], "mark": {"type": "text", "fontSize": 8, "fontWeight": "bold", "color": "#444", "baseline": "middle"},
"encoding": {"x": {"field": "cty", "type": "nominal", "sort": null, "scale": {"domain": ["USA", "IND", "IDN", "DRC", "NIG", "BRA", "WLD"], "paddingInner": 0.245, "paddingOuter": 0.12}, "axis": null}, "y": {"datum": 0.715, "type": "quantitative"}, "text": {"field": "cty"}}},
{"data": {"values": [{}]}, "mark": {"type": "point", "shape": "triangle-up", "filled": true, "color": "#111", "size": 60, "opacity": 1},
"encoding": {"x": {"datum": 0, "type": "quantitative", "scale": {"domain": [0, 1]}, "axis": null}, "y": {"datum": 3.665, "type": "quantitative"}}}
]
}
]
}
]
}
]
}
